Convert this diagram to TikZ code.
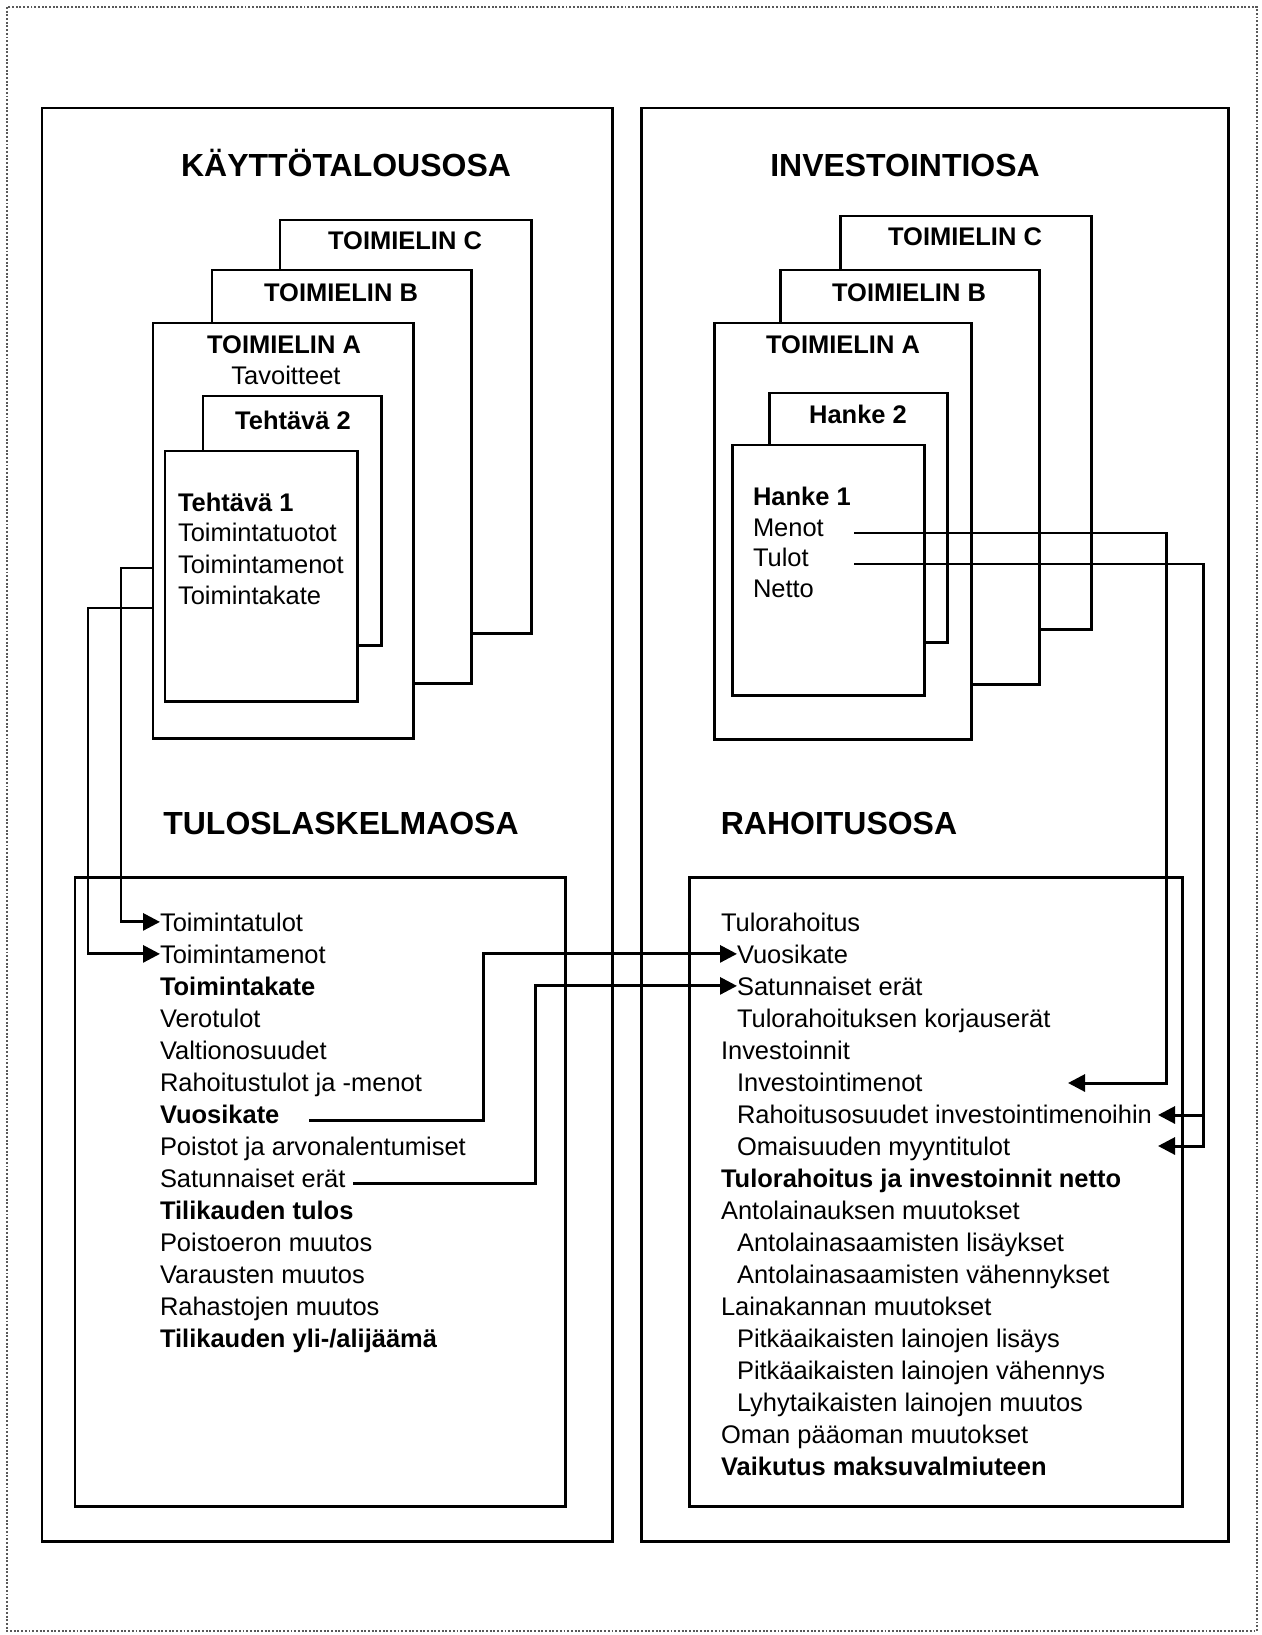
\documentclass[tikz,border=0pt]{standalone}
\usepackage{fontspec}
\setmainfont{Liberation Sans}
\usetikzlibrary{arrows.meta}

\begin{document}
\begin{tikzpicture}[x=0.02cm, y=-0.02cm,
    every node/.style={inner sep=0pt, outer sep=0pt},
    laatikko/.style={draw, line width=1.7pt, fill=white, anchor=north west},
    otsikko/.style={anchor=base, font=\fontsize{18.2}{22}\selectfont\bfseries},
    nimi/.style={anchor=base, font=\fontsize{14.5}{17}\selectfont\bfseries},
    rivi/.style={anchor=base west, font=\fontsize{14.5}{17}\selectfont},
    lihava/.style={anchor=base west, font=\fontsize{14.5}{17}\selectfont\bfseries},
    nuoli/.style={line width=1.7pt, -{Triangle[length=0.34cm,width=0.34cm]}}]

        \useasboundingbox (0,0) rectangle (1261,1635);
        \draw[black!65, line width=1.1pt, densely dotted] (7,7) rectangle (1257,1631);

        % Osat
        \node[laatikko, minimum width=11.42cm, minimum height=28.68cm] (kaytto) at (42,108) {};
        \node[laatikko, minimum width=11.76cm, minimum height=28.68cm] (invest) at (641,108) {};
        \node[laatikko, minimum width=9.82cm, minimum height=12.60cm] (tulos) at (75,877) {};
        \node[laatikko, minimum width=9.88cm, minimum height=12.60cm] (rahoitus) at (689,877) {};

        \node[otsikko] (t1) at (346,177) {KÄYTTÖTALOUSOSA};
        \node[otsikko] (t2) at (905,177) {INVESTOINTIOSA};
        \node[otsikko] (t3) at (341,834) {TULOSLASKELMAOSA};
        \node[otsikko] (t4) at (839,834) {RAHOITUSOSA};

        % Toimielimet, kayttotalous
        \node[laatikko, minimum width=5.04cm, minimum height=8.28cm] (kC) at (280,220) {};
        \node[nimi] (kCn) at (405,250) {TOIMIELIN C};
        \node[laatikko, minimum width=5.20cm, minimum height=8.28cm] (kB) at (212,270) {};
        \node[nimi] (kBn) at (341,301) {TOIMIELIN B};
        \node[laatikko, minimum width=5.22cm, minimum height=8.32cm] (kA) at (153,323) {};
        \node[nimi] (kAn) at (284,354) {TOIMIELIN A};
        \node[rivi, anchor=base] (tav) at (286,384) {Tavoitteet};
        \node[laatikko, minimum width=3.58cm, minimum height=5.00cm] (teh2) at (203,396) {};
        \node[nimi] (teh2n) at (293,429) {Tehtävä 2};
        \node[laatikko, minimum width=3.86cm, minimum height=5.02cm] (teh1) at (165,451) {};
        \node[lihava] (teh1n) at (178,511) {Tehtävä 1};
        \node[rivi] (ttuo) at (178,541) {Toimintatuotot};
        \node[rivi] (tmen) at (178,573) {Toimintamenot};
        \node[rivi] (tkat) at (178,604) {Toimintakate};

        % Toimielimet, investoinnit
        \node[laatikko, minimum width=5.04cm, minimum height=8.28cm] (iC) at (840,216) {};
        \node[nimi] (iCn) at (965,246) {TOIMIELIN C};
        \node[laatikko, minimum width=5.20cm, minimum height=8.30cm] (iB) at (780,270) {};
        \node[nimi] (iBn) at (909,301) {TOIMIELIN B};
        \node[laatikko, minimum width=5.16cm, minimum height=8.34cm] (iA) at (714,323) {};
        \node[nimi] (iAn) at (843,354) {TOIMIELIN A};
        \node[laatikko, minimum width=3.58cm, minimum height=5.00cm] (han2) at (769,393) {};
        \node[nimi] (han2n) at (858,423) {Hanke 2};
        \node[laatikko, minimum width=3.86cm, minimum height=5.02cm] (han1) at (732,445) {};
        \node[lihava] (han1n) at (753,505) {Hanke 1};
        \node[rivi] (menot) at (753,536) {Menot};
        \node[rivi] (tulot) at (753,566) {Tulot};
        \node[rivi] (netto) at (753,597) {Netto};

        % Tuloslaskelma
        \node[rivi] (l1) at (160,931) {Toimintatulot};
        \node[rivi] (l2) at (160,963) {Toimintamenot};
        \node[lihava] (l3) at (160,995) {Toimintakate};
        \node[rivi] (l4) at (160,1027) {Verotulot};
        \node[rivi] (l5) at (160,1059) {Valtionosuudet};
        \node[rivi] (l6) at (160,1091) {Rahoitustulot ja -menot};
        \node[lihava] (l7) at (160,1123) {Vuosikate};
        \node[rivi] (l8) at (160,1155) {Poistot ja arvonalentumiset};
        \node[rivi] (l9) at (160,1187) {Satunnaiset erät};
        \node[lihava] (l10) at (160,1219) {Tilikauden tulos};
        \node[rivi] (l11) at (160,1251) {Poistoeron muutos};
        \node[rivi] (l12) at (160,1283) {Varausten muutos};
        \node[rivi] (l13) at (160,1315) {Rahastojen muutos};
        \node[lihava] (l14) at (160,1347) {Tilikauden yli-/alijäämä};

        % Rahoitus
        \node[rivi] (r1) at (721,931) {Tulorahoitus};
        \node[rivi] (r2) at (737,963) {Vuosikate};
        \node[rivi] (r3) at (737,995) {Satunnaiset erät};
        \node[rivi] (r4) at (737,1027) {Tulorahoituksen korjauserät};
        \node[rivi] (r5) at (721,1059) {Investoinnit};
        \node[rivi] (r6) at (737,1091) {Investointimenot};
        \node[rivi] (r7) at (737,1123) {Rahoitusosuudet investointimenoihin};
        \node[rivi] (r8) at (737,1155) {Omaisuuden myyntitulot};
        \node[lihava] (r9) at (721,1187) {Tulorahoitus ja investoinnit netto};
        \node[rivi] (r10) at (721,1219) {Antolainauksen muutokset};
        \node[rivi] (r11) at (737,1251) {Antolainasaamisten lisäykset};
        \node[rivi] (r12) at (737,1283) {Antolainasaamisten vähennykset};
        \node[rivi] (r13) at (721,1315) {Lainakannan muutokset};
        \node[rivi] (r14) at (737,1347) {Pitkäaikaisten lainojen lisäys};
        \node[rivi] (r15) at (737,1379) {Pitkäaikaisten lainojen vähennys};
        \node[rivi] (r16) at (737,1411) {Lyhytaikaisten lainojen muutos};
        \node[rivi] (r17) at (721,1443) {Oman pääoman muutokset};
        \node[lihava] (r18) at (721,1475) {Vaikutus maksuvalmiuteen};

        % Nuolet
        \coordinate (ka1) at (153,568);
        \coordinate (ka2) at (121,568);
        \coordinate (kb1) at (153,608);
        \coordinate (kb2) at (88,608);
        \coordinate (vk1) at (309,1120);
        \coordinate (vk2) at (483,1120);
        \coordinate (se1) at (353,1183);
        \coordinate (se2) at (535,1183);
        \coordinate (me1) at (854,533);
        \coordinate (me2) at (1166,533);
        \coordinate (me3) at (1068,1083);
        \coordinate (tu1) at (854,564);
        \coordinate (tu2) at (1203,564);
        \coordinate (tu3) at (1158,1146);
        \coordinate (tu4) at (1203,1115);
        \coordinate (tu5) at (1158,1115);
        \draw[nuoli] (ka1) -- (ka2) |- (l1.west);
        \draw[nuoli] (kb1) -- (kb2) |- (l2.west);
        \draw[nuoli] (vk1) -- (vk2) |- (r2.west);
        \draw[nuoli] (se1) -- (se2) |- (r3.west);
        \draw[nuoli] (me1) -- (me2) |- (me3);
        \draw[nuoli] (tu1) -- (tu2) |- (tu3);
        \draw[nuoli] (tu4) -- (tu5);
\end{tikzpicture}
\end{document}
